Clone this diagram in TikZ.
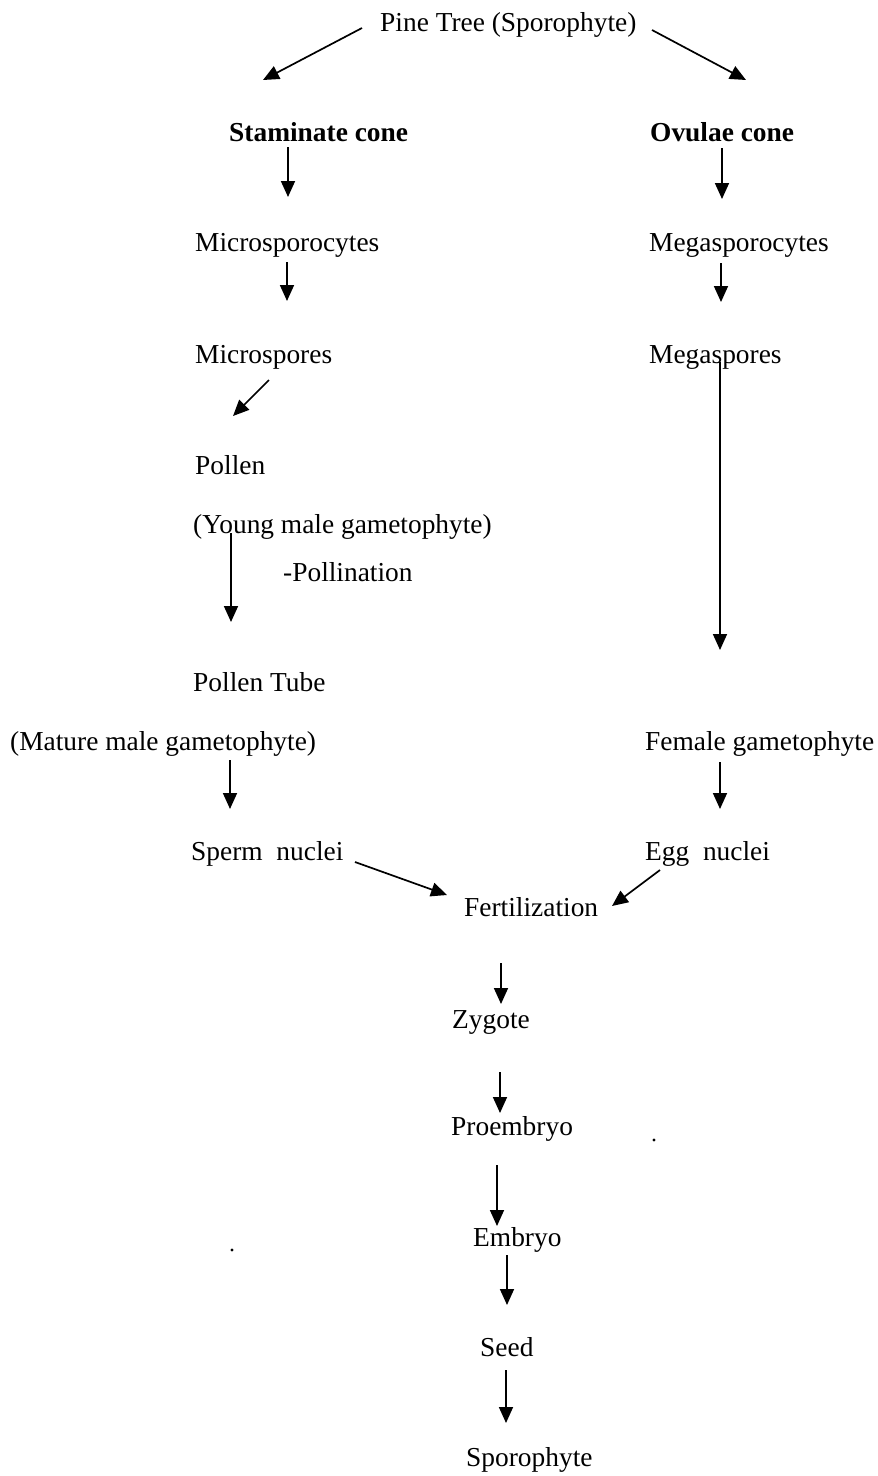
\documentclass[tikz,border=0pt]{standalone}
\usepackage{fontspec}
\setmainfont{Liberation Serif}
\usetikzlibrary{arrows.meta}
\begin{document}
\begin{tikzpicture}[x=1pt,y=-1pt,
  lbl/.style={inner sep=0pt,anchor=base west,font=\fontsize{27.4}{32}\selectfont},
  blbl/.style={lbl,font=\fontsize{27.4}{32}\selectfont\bfseries},
  arr/.style={line width=1.7pt,-{Triangle[length=16pt,width=14pt]}}]
\useasboundingbox (0,0) rectangle (878,1476);
% nodes (anchor base west: x = left edge, y = baseline)
\node[lbl]  (pine)  at (380,31)  {Pine Tree (Sporophyte)};
\node[blbl] (stam)  at (229,141) {Staminate cone};
\node[blbl] (ovul)  at (650,141) {Ovulae cone};
\node[lbl]  (micc)  at (195,251) {Microsporocytes};
\node[lbl]  (megc)  at (649,251) {Megasporocytes};
\node[lbl]  (mics)  at (195,363) {Microspores};
\node[lbl]  (megs)  at (649,363) {Megaspores};
\node[lbl]  (pol)   at (195,474) {Pollen};
\node[lbl]  (young) at (193,533) {(Young male gametophyte)};
\node[lbl]  (polli) at (283,581) {-Pollination};
\node[lbl]  (tube)  at (193,691) {Pollen Tube};
\node[lbl]  (mature) at (10,750) {(Mature male gametophyte)};
\node[lbl]  (female) at (645,750) {Female gametophyte};
\node[lbl]  (sperm) at (191,860) {Sperm\ \ nuclei};
\node[lbl]  (egg)   at (645,860) {Egg\ \ nuclei};
\node[lbl]  (fert)  at (464,916) {Fertilization};
\node[lbl]  (zyg)   at (452,1028) {Zygote};
\node[lbl]  (proe)  at (451,1135) {Proembryo};
\node[lbl]  (emb)   at (473,1246) {Embryo};
\node[lbl]  (seed)  at (480,1356) {Seed};
\node[lbl]  (spor)  at (466,1466) {Sporophyte};
% arrow end points
\coordinate (a1) at (362,28);  \coordinate (b1) at (263,80);
\coordinate (a2) at (652,30);  \coordinate (b2) at (746,80);
\coordinate (a3) at (288,147); \coordinate (b3) at (288,197);
\coordinate (a4) at (722,148); \coordinate (b4) at (722,199);
\coordinate (a5) at (287,262); \coordinate (b5) at (287,301);
\coordinate (a6) at (721,263); \coordinate (b6) at (721,302);
\coordinate (a7) at (269,380); \coordinate (b7) at (233,416);
\coordinate (a8) at (231,533); \coordinate (b8) at (231,622);
\coordinate (a9) at (720,362); \coordinate (b9) at (720,650);
\coordinate (a10) at (230,760); \coordinate (b10) at (230,809);
\coordinate (a11) at (720,762); \coordinate (b11) at (720,809);
\coordinate (a12) at (355,862); \coordinate (b12) at (447,895);
\coordinate (a13) at (660,870); \coordinate (b13) at (612,906);
\coordinate (a14) at (501,963); \coordinate (b14) at (501,1004);
\coordinate (a15) at (500,1072); \coordinate (b15) at (500,1113);
\coordinate (a16) at (497,1165); \coordinate (b16) at (497,1226);
\coordinate (a17) at (507,1255); \coordinate (b17) at (507,1305);
\coordinate (a18) at (506,1370); \coordinate (b18) at (506,1423);
\foreach \i in {1,...,18} {\draw[arr] (a\i) -- (b\i);}
% specks
\fill (654,1140) circle (1.6pt);
\fill (232,1250) circle (1.6pt);
\end{tikzpicture}
\end{document}
